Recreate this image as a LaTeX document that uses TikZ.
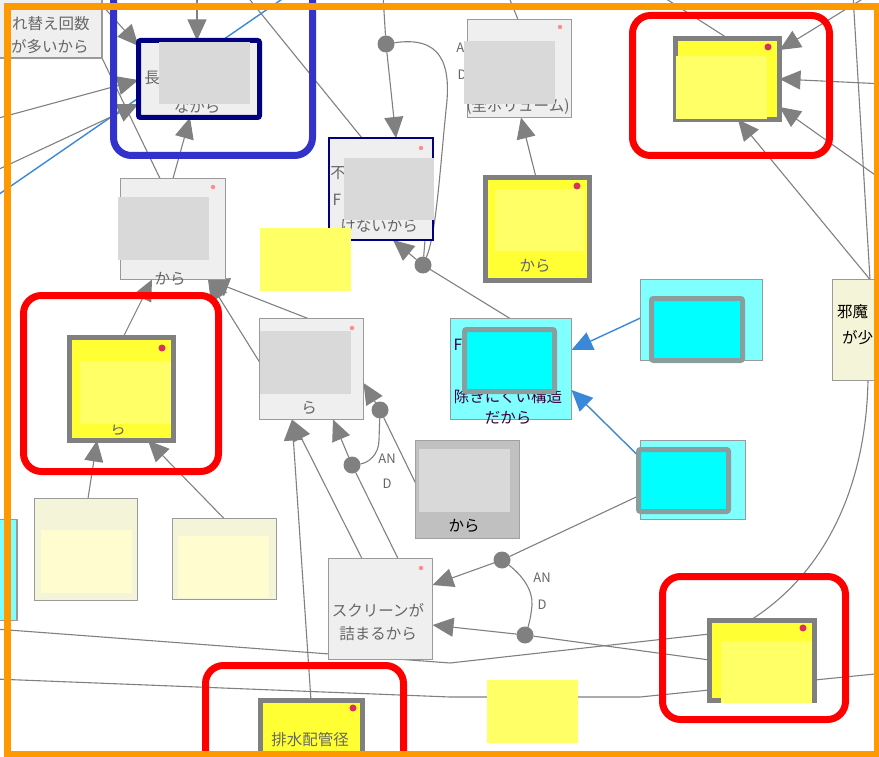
\documentclass[tikz,border=0pt]{standalone}
\usepackage{fontspec}
\setmainfont{Noto Sans CJK JP}
\usetikzlibrary{arrows.meta,calc}
\definecolor{orangefr}{HTML}{FF9900}
\definecolor{bordgray}{HTML}{9A9A9A}
\definecolor{boxfill}{HTML}{EFEFEF}
\definecolor{ymain}{HTML}{FFFF33}
\definecolor{ylight}{HTML}{FFFF66}
\definecolor{ygray}{HTML}{808080}
\definecolor{beige}{HTML}{F4F4D8}
\definecolor{beigelight}{HTML}{FFFDD0}
\definecolor{cyanlight}{HTML}{80FFFF}
\definecolor{cyanfull}{HTML}{00FFFF}
\definecolor{cyanbord}{HTML}{8A9E9E}
\definecolor{darkbox}{HTML}{C0C0C0}
\definecolor{darkbord}{HTML}{A0A0A0}
\definecolor{redact}{HTML}{D9D9D9}
\definecolor{navyc}{HTML}{000080}
\definecolor{bluefrc}{HTML}{3333CC}
\definecolor{conngray}{HTML}{808080}
\definecolor{blueln}{HTML}{3A88D8}
\definecolor{textgray}{HTML}{666666}
\definecolor{purpletext}{HTML}{3C003C}
\definecolor{reddot}{HTML}{D83060}
\definecolor{pinkdot}{HTML}{FF8C8C}
\definecolor{redfrc}{HTML}{FF0000}
\pgfdeclarelayer{connlayer}
\pgfdeclarelayer{toplayer}
\pgfsetlayers{connlayer,main,toplayer}
\tikzset{
  every node/.style={inner sep=0pt, outer sep=0pt},
  bx/.style={rectangle, anchor=north west, draw=bordgray, line width=1.5pt, fill=boxfill},
  nvbox/.style={rectangle, anchor=north west, draw=navyc, line width=5pt, fill=boxfill, rounded corners=2pt},
  fbx/.style={rectangle, anchor=north west, draw=navyc, line width=2pt, fill=boxfill},
  ybx/.style={rectangle, anchor=north west, draw=ygray, line width=5pt, fill=ymain},
  bgbox/.style={rectangle, anchor=north west, draw=bordgray, line width=1.5pt, fill=beige},
  cybox/.style={rectangle, anchor=north west, draw=bordgray, line width=1.5pt, fill=cyanlight},
  dkbox/.style={rectangle, anchor=north west, draw=darkbord, line width=1.5pt, fill=darkbox},
  inncyan/.style={draw=cyanbord, fill=cyanfull, line width=5pt, rounded corners=2pt},
  conn/.style={draw=conngray, line width=1.1pt},
  arr/.style={conn, -{Triangle[length=21pt,width=19pt]}},
  barr/.style={draw=blueln, line width=1.4pt, -{Triangle[length=21pt,width=19pt]}},
  bline/.style={draw=blueln, line width=1.4pt},
  jdot/.style={circle, fill=conngray, minimum size=17pt},
  txt/.style={text=textgray, font=\fontsize{15.5}{18}\selectfont},
  txtblack/.style={text=black, font=\fontsize{15.5}{18}\selectfont},
  txtpurple/.style={text=purpletext, font=\fontsize{15.5}{18}\selectfont},
  andlbl/.style={text=textgray, font=\fontsize{13}{15}\selectfont},
  redfr/.style={draw=redfrc, line width=7pt, rounded corners=18pt},
  bluefr/.style={draw=bluefrc, line width=7pt, rounded corners=18pt},
}
\begin{document}
\begin{tikzpicture}[x=1pt,y=-1pt]
\useasboundingbox (0,0) rectangle (879,757);
\clip (0,0) rectangle (879,757);

% ---------- boxes ----------
\node[bx, minimum width=122pt, minimum height=78pt] (tlbox) at (-20,-20) {};
\node[nvbox, minimum width=121pt, minimum height=77pt] (navy) at (138.5,40.5) {};
\node[fbx, minimum width=104pt, minimum height=102pt] (fbox) at (329,138) {};
\node[bx, minimum width=104pt, minimum height=98pt] (zbox) at (467.5,19.5) {};
\node[ybx, minimum width=104pt, minimum height=103pt] (yb1) at (485.5,177.5) {};
\node[ybx, minimum width=104pt, minimum height=81pt] (yb2) at (675.5,38.5) {};
\node[bgbox, minimum width=80pt, minimum height=101pt] (jbox) at (832.5,279.5) {};
\node[ybx, minimum width=104pt, minimum height=103pt] (yb3) at (69.5,337.5) {};
\node[bx, minimum width=105pt, minimum height=101pt] (kbox) at (120.5,178.5) {};
\node[bx, minimum width=104pt, minimum height=101pt] (rbox) at (259.5,318.5) {};
\node[dkbox, minimum width=104pt, minimum height=98pt] (gbox) at (415.5,440.5) {};
\node[cybox, minimum width=121pt, minimum height=101pt] (cbox) at (450.5,318.5) {};
\node[cybox, minimum width=122pt, minimum height=81pt] (cb1) at (640.5,279.5) {};
\node[cybox, minimum width=105pt, minimum height=79pt] (cb2) at (640.5,440.5) {};
\node[bx, minimum width=104pt, minimum height=101pt] (sbox) at (328.5,558.5) {};
\node[ybx, minimum width=105pt, minimum height=80pt] (yb4) at (709.5,620.5) {};
\node[ybx, minimum width=102pt, minimum height=100pt] (yb5) at (260.5,700.5) {};
\node[bgbox, minimum width=103pt, minimum height=102pt] (bg1) at (34.5,498.5) {};
\node[bgbox, minimum width=104pt, minimum height=81pt] (bg2) at (172.5,518.5) {};
\node[cybox, minimum width=37pt, minimum height=101pt] (cl) at (-20,519.5) {};

% ---------- texts ----------
\node[txt] (ttl1) at (51,24) {れ替え回数};
\node[txt] (ttl2) at (50,47) {が多いから};
\node[txt] (tnv1) at (152,78) {長};
\node[txt] (tnv2) at (197,107) {なから};
\node[txt] (tf1) at (338,173) {不};
\node[txt] (tf2) at (337,200) {F};
\node[txt] (tf3) at (379,226) {けないから};
\node[andlbl] (and1a) at (465,48) {AN};
\node[andlbl] (and1b) at (462,75) {D};
\node[txt] (tz1) at (518,106) {(全ボリューム)};
\node[txt] (ty1) at (535,266) {から};
\node[txtblack, anchor=west] (tj1) at (837,312) {邪魔};
\node[txtblack, anchor=west] (tj2) at (842,338) {が少};
\node[txt] (ty3) at (118,429) {ら};
\node[txt] (tk1) at (170,279) {から};
\node[txt] (tr1) at (309,408) {ら};
\node[txtblack] (tg1) at (464,526) {から};
\node[txtpurple] (tc0) at (458,345) {F};
\node[txtpurple] (tc1) at (508,397) {除きにくい構造};
\node[txtpurple] (tc2) at (508,418) {だから};
\node[andlbl] (and2a) at (387,459) {AN};
\node[andlbl] (and2b) at (387,484) {D};
\node[andlbl] (and3a) at (542,578) {AN};
\node[andlbl] (and3b) at (542,605) {D};
\node[txt] (ts1) at (378,610) {スクリーンが};
\node[txt] (ts2) at (378,634) {詰まるから};
\node[txt] (tb1) at (310,740) {排水配管径};

% ---------- redaction overlays ----------
\fill[redact] (159,42) rectangle (250,104);
\fill[redact] (344,158) rectangle (434,220);
\fill[redact] (464,41) rectangle (555,104);
\fill[ylight] (495,189) rectangle (584,251);
\fill[ylight] (260,228) rectangle (351,291);
\fill[ylight] (676,56) rectangle (767,119);
\fill[ylight] (80,361) rectangle (171,424);
\fill[redact] (118,197) rectangle (209,260);
\fill[redact] (260,331) rectangle (351,394);
\fill[redact] (419,449) rectangle (510,512);
\draw[inncyan] (464.5,329.5) rectangle (554.5,391.5);
\draw[inncyan] (651.5,298.5) rectangle (742.5,360.5);
\draw[inncyan] (638.5,449.5) rectangle (728.5,511.5);
\fill[ylight] (721,641) rectangle (812,703);
\fill[ylight] (487,680) rectangle (578,743);
\fill[beigelight] (41,530) rectangle (132,593);
\fill[beigelight] (178,536) rectangle (269,598);

% ---------- small dots in corners ----------
\fill[pinkdot] (421,148) circle[radius=2.2pt];
\fill[pinkdot] (560,27) circle[radius=2.2pt];
\fill[pinkdot] (213,187) circle[radius=2.2pt];
\fill[pinkdot] (352,328) circle[radius=2.2pt];
\fill[pinkdot] (421,568) circle[radius=2.2pt];
\fill[reddot] (577,186) circle[radius=3.5pt];
\fill[reddot] (768,47) circle[radius=3.5pt];
\fill[reddot] (162,348) circle[radius=3.5pt];
\fill[reddot] (803,628) circle[radius=3.5pt];
\fill[reddot] (353,708) circle[radius=3.5pt];

% ---------- junction dots ----------
\node[jdot] (d1) at (386,44) {};
\node[jdot] (d2) at (423,265) {};
\node[jdot] (d3) at (380,410) {};
\node[jdot] (d4) at (352,465) {};
\node[jdot] (d5) at (502,560) {};
\node[jdot] (d6) at (525,635) {};

% ---------- connectors ----------
\begin{pgfonlayer}{connlayer}
\coordinate (o1) at (93,-5);
\coordinate (o2) at (-5,119);
\coordinate (o3) at (-5,171);
\coordinate (o5) at (197,-5);
\coordinate (ob1) at (-5,197);
\coordinate (ob2) at (288,-5);
\coordinate (o6) at (246,-5);
\coordinate (o7) at (383,-5);
\coordinate (o8) at (508,-5);
\coordinate (o9) at (660,-5);
\coordinate (o10) at (869,-5);
\coordinate (o11) at (885,84);
\coordinate (o12) at (885,182);
\coordinate (o13) at (853,-5);
\coordinate (o14) at (-5,629);
\coordinate (o15) at (-5,679);
\coordinate (o16) at (885,673);

\draw[bline] (ob1) -- (ob2);
\draw[arr] (o1) -- (navy.west |- 0,46);
\draw[arr] (o2) -- (navy.west |- 0,80);
\draw[arr] (o3) -- (navy.west |- 0,104);
\draw[arr] (o5) -- (navy.north -| 197,0);
\draw[conn] (tlbox.south east) -- (kbox.north -| 160,0);
\draw[arr] (kbox.north -| 173,0) -- (navy.south -| 190,0);

\draw[conn] (o6) -- (fbox.north -| 362,0);
\draw[conn] (o7) -- (d1);
\draw[arr] (d1) -- (fbox.north -| 396,0);
\draw[conn] (d1) .. controls (440,36) and (452,62) .. (446,110) .. controls (440,170) and (436,235) .. (d2);
\draw[conn] (fbox.south -| 425,0) -- (d2);
\draw[arr] (d2) -- (fbox.south -| 393,0);
\draw[conn] (d2) -- (cbox.north -| 510,0);

\draw[conn] (o8) -- (zbox.north -| 518,0);
\draw[arr] (yb1.north -| 536,0) -- (zbox.south -| 521,0);

\draw[conn] (o9) -- (yb2.north -| 728,0);
\draw[arr] (o10) -- (yb2.east |- 0,50);
\draw[arr] (o11) -- (yb2.east |- 0,79);
\draw[arr] (o12) -- (yb2.east |- 0,107);
\draw[arr] (jbox.north -| 870,0) -- (yb2.south -| 738,0);
\draw[conn] (o13) -- (jbox.north -| 870,0);
\draw[conn] (jbox.south -| 868,0) .. controls (866,480) and (830,570) .. (yb4.north -| 750,0);

\draw[arr] (yb3.north -| 123,0) -- (kbox.south -| 152,0);
\draw[arr] (rbox.north -| 308,0) -- (kbox.south -| 208,0);
\draw[arr] (rbox.west |- 0,362) -- (kbox.south -| 208,0);
\draw[arr] (bg1.north -| 88,0) -- (yb3.south -| 97,0);
\draw[arr] (bg2.north -| 224,0) -- (yb3.south -| 148,0);

\draw[arr] (d3) -- (rbox.east |- 0,383);
\draw[conn] (d3) -- (gbox.west |- 0,483);
\draw[conn] (d3) -- (379,440) .. controls (379,455) and (368,463) .. (d4);
\draw[arr] (d4) -- (rbox.south -| 333,0);
\draw[conn] (sbox.north -| 398,0) -- (d4);
\draw[arr] (sbox.north -| 362,0) -- (rbox.south -| 292,0);
\draw[arr] (yb5.north -| 311,0) -- (rbox.south -| 292,0);

\draw[conn] (cb2.west |- 0,495) -- (d5);
\draw[arr] (d5) -- (sbox.east |- 0,585);
\draw[conn] (d5) .. controls (522,575) and (533,590) .. (532,605) .. controls (531,618) and (528,627) .. (d6);
\draw[arr] (d6) -- (sbox.east |- 0,625);
\draw[conn] (yb4.west |- 0,660) -- (d6);

\draw[barr] (cb1.west |- 0,318) -- (cbox.east |- 0,350);
\draw[barr] (cb2.west |- 0,458) -- (cbox.east |- 0,390);

\draw[conn] (o14) -- (450,663) -- (yb4.west |- 0,634);
\draw[conn] (o15) -- (450,697) -- (640,697) -- (yb4.west |- 0,690);
\draw[conn] (yb4.east |- 0,680) -- (o16);
\end{pgfonlayer}

% ---------- highlight frames ----------
\begin{pgfonlayer}{toplayer}
\draw[bluefr] (113.5,-20) rectangle (312.5,155.5);
\draw[redfr] (632.5,15.5) rectangle (829.5,155.5);
\draw[redfr] (23.5,295.5) rectangle (218.5,471.5);
\draw[redfr] (662.5,576.5) rectangle (845.5,719.5);
\draw[redfr] (205.5,665.5) rectangle (403.5,800);
\draw[orangefr, line width=7pt] (7,7) rectangle (877,754.5);
\end{pgfonlayer}
\end{tikzpicture}
\end{document}
